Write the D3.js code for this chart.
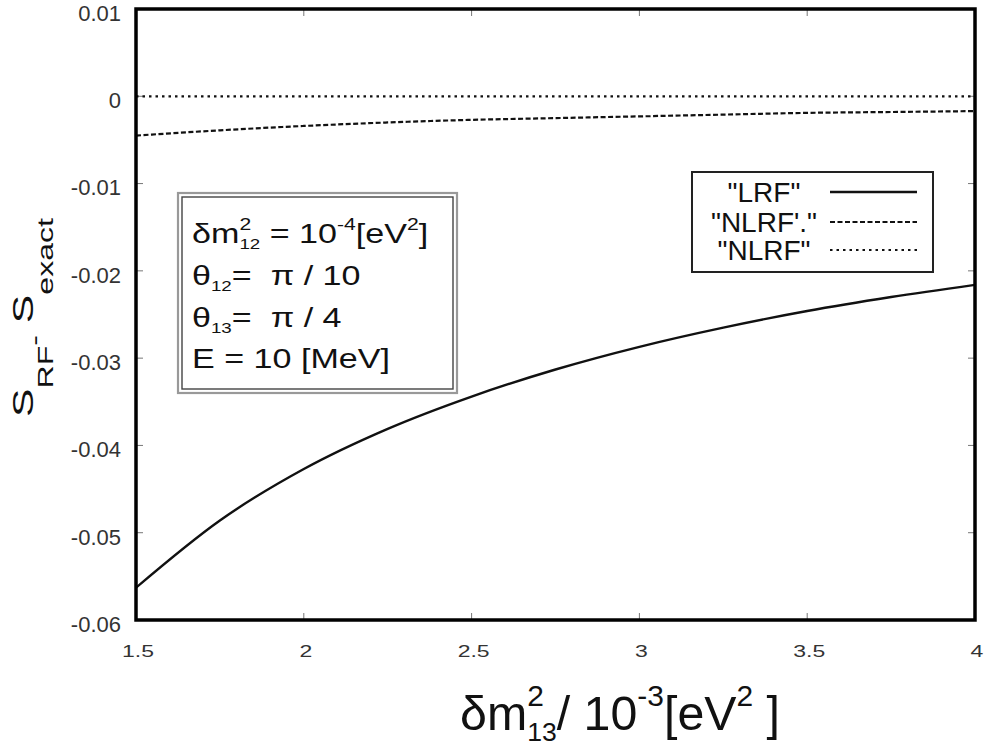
<!DOCTYPE html>
<html>
<head>
<meta charset="utf-8">
<script src="https://cdn.jsdelivr.net/npm/d3@7"></script>
<style>
  html, body { margin: 0; padding: 0; background: #fff; }
  svg { display: block; }
  text { white-space: pre; }
</style>
</head>
<body>
<svg id="chart" width="985" height="749"></svg>
<script>
// ---------------- data ----------------
const xValues   = [1.5, 1.75, 2, 2.25, 2.5, 2.75, 3, 3.25, 3.5, 3.75, 4];
const lrfValues = [-0.0563, -0.0486, -0.0427, -0.0381, -0.0344, -0.0313, -0.0287, -0.0265, -0.0246, -0.0230, -0.0216];
const nlrfPrimeValues = [-0.0045, -0.0039, -0.0034, -0.0030, -0.0027, -0.0025, -0.0023, -0.0021, -0.0019, -0.0018, -0.0017];
const nlrfValues = [0, 0, 0, 0, 0, 0, 0, 0, 0, 0, 0];
const xTicks = [1.5, 2, 2.5, 3, 3.5, 4];
const xTickLabels = ["1.5", "2", "2.5", "3", "3.5", "4"];
const yTicks = [0.01, 0, -0.01, -0.02, -0.03, -0.04, -0.05, -0.06];
const yTickLabels = ["0.01", "0", "-0.01", "-0.02", "-0.03", "-0.04", "-0.05", "-0.06"];
const seriesNames = ['"LRF"', '"NLRF\'."', '"NLRF"'];
const boxLines = [
  [{t:"δm"},{t:"2",s:0.62,dy:-0.48},{t:"12",s:0.55,dy:0.22,stack:true},{t:" = 10"},{t:"-4",s:0.62,dy:-0.48},{t:"[eV"},{t:"2",s:0.62,dy:-0.48},{t:"]"}],
  [{t:"θ"},{t:"12",s:0.55,dy:0.22},{t:"=  π / 10"}],
  [{t:"θ"},{t:"13",s:0.55,dy:0.22},{t:"=  π / 4"}],
  [{t:"E = 10 [MeV]"}]
];
const xLabelSegs = [{t:"δm"},{t:"2",s:0.62,dy:-0.5},{t:"13",s:0.55,dy:0.22,stack:true},{t:"/ 10"},{t:"-3",s:0.62,dy:-0.5},{t:"[eV"},{t:"2",s:0.62,dy:-0.5},{t:" ]"}];
const yLabelSegs = [{t:"S"},{t:"RF",s:0.75,dy:0.67},{t:"-",s:0.75,dy:0.3},{t:" S"},{t:"exact",s:0.75,dy:0.67}];

// ---------------- layout ----------------
const FONT = "'Liberation Sans', Arial, Helvetica, sans-serif";
const svg = d3.select("#chart");
const L = 136, R = 975, T = 9, B = 620;
const x = d3.scaleLinear().domain([1.5, 4]).range([L, R]);
const y = d3.scaleLinear().domain([-0.06, 0.01]).range([B, T]);

svg.append("rect").attr("width", 985).attr("height", 749).attr("fill", "#fff");

// rich text helper
function rich(parent, segs, fs) {
  const g = parent.append("g");
  let cx = 0, prevStart = 0, prevEnd = 0;
  segs.forEach(sg => {
    const start = sg.stack ? prevStart : cx;
    const t = g.append("text")
      .attr("x", start)
      .attr("y", (sg.dy || 0) * fs)
      .attr("font-size", fs * (sg.s || 1))
      .attr("font-family", FONT)
      .attr("fill", "#111")
      .text(sg.t);
    const w = t.node().getComputedTextLength();
    const end = start + w;
    if (sg.stack) {
      prevEnd = Math.max(prevEnd, end);
      cx = prevEnd;
    } else {
      prevStart = start;
      prevEnd = end;
      cx = end;
    }
  });
  return { g, width: cx };
}

// clip
svg.append("defs").append("clipPath").attr("id", "plotclip")
  .append("rect").attr("x", L).attr("y", T).attr("width", R - L).attr("height", B - T);

// ticks (inward, on all four sides)
const tickG = svg.append("g").attr("stroke", "#777").attr("stroke-width", 1);
xTicks.forEach(v => {
  tickG.append("line").attr("x1", x(v)).attr("x2", x(v)).attr("y1", B).attr("y2", B - 7);
  tickG.append("line").attr("x1", x(v)).attr("x2", x(v)).attr("y1", T).attr("y2", T + 7);
});
yTicks.forEach(v => {
  tickG.append("line").attr("x1", L).attr("x2", L + 7).attr("y1", y(v)).attr("y2", y(v));
  tickG.append("line").attr("x1", R).attr("x2", R - 7).attr("y1", y(v)).attr("y2", y(v));
});

// tick labels
const yl = svg.append("g");
yTicks.forEach((v, i) => {
  yl.append("text").attr("x", 121).attr("y", y(v) + 4).attr("dy", "0.36em")
    .attr("text-anchor", "end").attr("font-size", 22).attr("font-family", FONT)
    .attr("fill", "#333").text(yTickLabels[i]);
});
const xl = svg.append("g");
xTicks.forEach((v, i) => {
  xl.append("text")
    .attr("transform", `translate(${x(v) + 2},657) scale(1,0.74)`)
    .attr("text-anchor", "middle").attr("font-size", 23).attr("font-family", FONT)
    .attr("fill", "#333").text(xTickLabels[i]);
});

// curves
const plot = svg.append("g").attr("clip-path", "url(#plotclip)");
const line = d3.line().x(d => x(d[0])).y(d => y(d[1])).curve(d3.curveMonotoneX);
const seriesData = [
  { vals: lrfValues, dash: null, w: 2.4 },
  { vals: nlrfPrimeValues, dash: "5,2.5", w: 2.2 },
  { vals: nlrfValues, dash: "2.5,4", w: 2.2 }
];
seriesData.forEach(s => {
  plot.append("path")
    .datum(xValues.map((xv, i) => [xv, s.vals[i]]))
    .attr("d", line)
    .attr("fill", "none")
    .attr("stroke", "#111")
    .attr("stroke-width", s.w)
    .attr("stroke-dasharray", s.dash);
});

// frame
svg.append("rect").attr("x", L).attr("y", T).attr("width", R - L).attr("height", B - T)
  .attr("fill", "none").attr("stroke", "#000").attr("stroke-width", 3.5);

// legend
const leg = svg.append("g");
leg.append("rect").attr("x", 692).attr("y", 172).attr("width", 241).attr("height", 100)
  .attr("fill", "#fff").attr("stroke", "#222").attr("stroke-width", 2);
const legY = [192, 222, 250];
seriesNames.forEach((nm, i) => {
  leg.append("text").attr("x", 764).attr("y", legY[i]).attr("dy", "0.36em")
    .attr("text-anchor", "middle").attr("font-size", 28).attr("font-family", FONT)
    .attr("fill", "#111").text(nm);
  leg.append("line").attr("x1", 830).attr("x2", 917).attr("y1", legY[i]).attr("y2", legY[i])
    .attr("stroke", "#111").attr("stroke-width", seriesData[i].w)
    .attr("stroke-dasharray", seriesData[i].dash);
});

// parameter box
const box = svg.append("g");
box.append("rect").attr("x", 178).attr("y", 193).attr("width", 279).attr("height", 200)
  .attr("fill", "#fff").attr("stroke", "#999").attr("stroke-width", 2.2);
box.append("rect").attr("x", 182).attr("y", 197).attr("width", 271).attr("height", 192)
  .attr("fill", "none").attr("stroke", "#444").attr("stroke-width", 1.4);
const baselines = [243, 285, 327, 368];
const boxRich = boxLines.map((segs, i) => rich(box, segs, 28));
const boxScale = 198 / boxRich[3].width;
boxRich.forEach((r, i) => {
  r.g.attr("transform", `translate(192,${baselines[i]}) scale(${boxScale},1)`);
});

// x axis label
const xr = rich(svg, xLabelSegs, 48);
xr.g.attr("transform", `translate(460,730) scale(${320 / xr.width},1)`);

// y axis label
const yr = rich(svg, yLabelSegs, 30);
yr.g.attr("transform", `translate(33,417) rotate(-90) scale(${199 / yr.width},1)`);
</script>
</body>
</html>
